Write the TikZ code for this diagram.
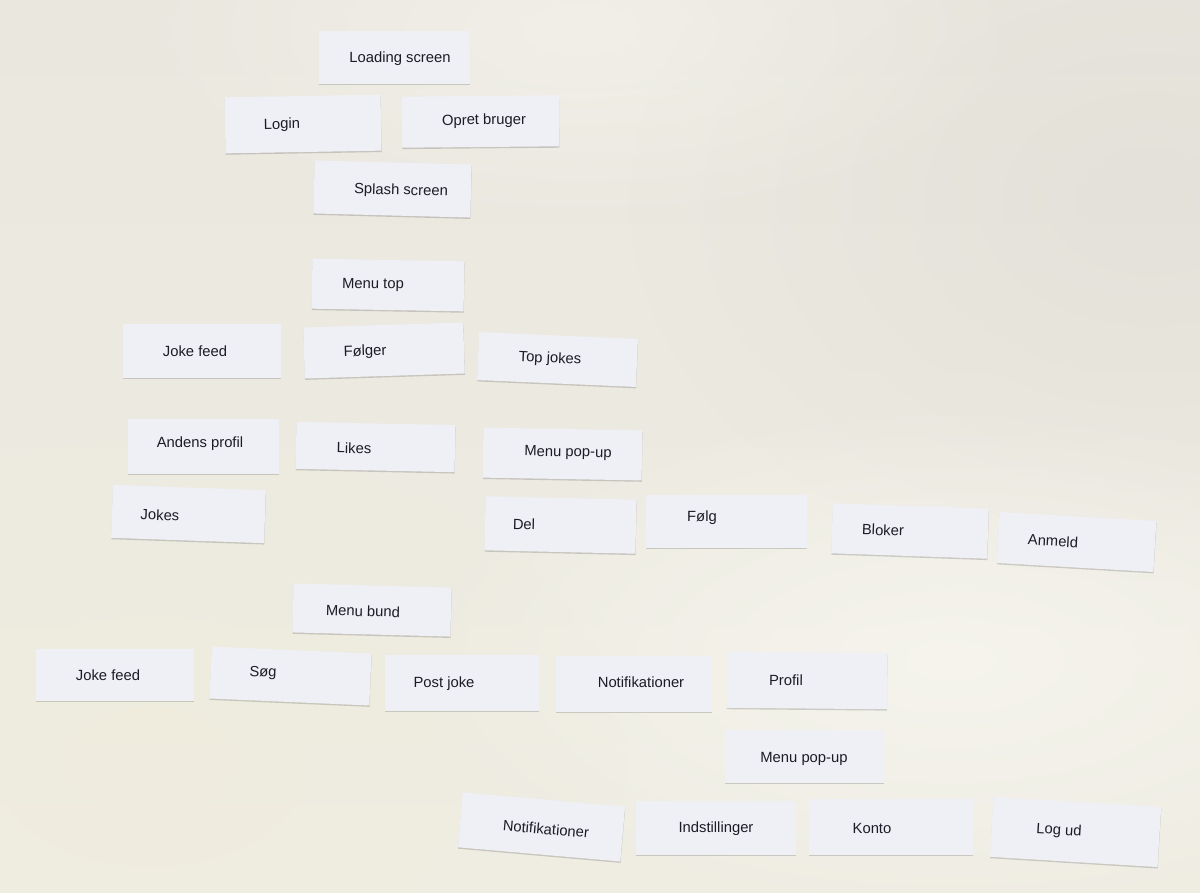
\documentclass[tikz,border=0pt]{standalone}
\usepackage{fontspec}
\setmainfont{Liberation Sans}
\usetikzlibrary{shadows,fadings}
\definecolor{bgtop}{HTML}{EAE7DF}
\definecolor{bgbot}{HTML}{EFEDE2}
\definecolor{glowgray}{HTML}{DCDAD3}
\definecolor{glowcream}{HTML}{F0ECDD}
\definecolor{glowwhite}{HTML}{F8F7F1}
\definecolor{cardfill}{HTML}{EFEFF6}
\definecolor{inkcol}{HTML}{1C1C26}
\tikzfading[name=softglow, inner color=transparent!0, outer color=transparent!100]
\tikzset{
  cardbox/.style={draw=none, fill=cardfill, inner sep=0pt,
    drop shadow={shadow xshift=0.2pt, shadow yshift=-1.4pt, fill=black, opacity=0.16}},
  cardtext/.style={inner sep=0pt, text=inkcol, yshift=-1pt, font=\fontsize{14.8}{17}\selectfont}
}
\newcommand\papercard[9]{%
  \node[cardbox, minimum width=#4pt, minimum height=#5pt, rotate=#6] (c#1) at (#2,#3) {};
  \node[cardtext, rotate=#6] (t#1) at (#7,#8) {#9};
}
\begin{document}
\begin{tikzpicture}[x=1pt, y=-1pt]
\useasboundingbox (0,0) rectangle (1200,892);
% background (table surface)
\shade[top color=bgtop, bottom color=bgbot] (0,0) rectangle (1200,892);
\fill[glowgray, opacity=0.5, path fading=softglow] (1150,200) ellipse (520 and 380);
\fill[glowcream, opacity=0.6, path fading=softglow] (150,760) ellipse (480 and 320);
\fill[glowwhite, opacity=0.75, path fading=softglow] (950,660) ellipse (560 and 260);
\fill[glowwhite, opacity=0.5, path fading=softglow] (580,30) ellipse (460 and 200);
% cards
\papercard{1}{394.5}{57.5}{151}{53}{0}{400}{58}{Loading screen}
\papercard{2}{303}{124}{156}{56}{1}{282}{124}{Login}
\papercard{3}{480.5}{121.5}{157}{51}{0.5}{484}{120}{Opret bruger}
\papercard{4}{392.5}{189}{157}{53}{-1.5}{401}{190}{Splash screen}
\papercard{5}{388}{285}{152}{50}{-1}{373}{284}{Menu top}
\papercard{6}{202}{351}{158}{54}{0}{195}{350}{Joke feed}
\papercard{7}{384}{350.5}{160}{51}{1.8}{365}{351}{Følger}
\papercard{8}{557.5}{359.5}{159}{48}{-2.5}{550}{358}{Top jokes}
\papercard{9}{203.5}{446}{151}{55}{0}{200}{443}{Andens profil}
\papercard{10}{375.5}{447}{159}{47}{-1.2}{354}{447}{Likes}
\papercard{11}{562.5}{454}{159}{50}{-1}{568}{452}{Menu pop-up}
\papercard{12}{188.5}{514}{153}{53}{-2}{160}{514}{Jokes}
\papercard{13}{560.5}{525}{151}{54}{-1.3}{524}{523}{Del}
\papercard{14}{726.5}{521}{161}{53}{0}{702}{517}{Følg}
\papercard{15}{910}{531}{156}{50}{-2}{883}{529}{Bloker}
\papercard{16}{1076.5}{542}{157}{51}{-3.3}{1053}{540}{Anmeld}
\papercard{17}{372}{610}{158}{49}{-1.5}{363}{610}{Menu bund}
\papercard{18}{115}{675}{158}{52}{0}{108}{674}{Joke feed}
\papercard{19}{290.5}{676}{160}{52}{-2.5}{263}{672}{Søg}
\papercard{20}{462}{682.5}{154}{56}{0}{444}{683}{Post joke}
\papercard{21}{634}{684}{156}{56}{0}{641}{681}{Notifikationer}
\papercard{22}{807}{680.5}{160}{56}{-0.5}{786}{679}{Profil}
\papercard{23}{804.5}{756.5}{159}{53}{0}{804}{758}{Menu pop-up}
\papercard{24}{541.5}{827}{163}{55}{-5}{546}{828}{Notifikationer}
\papercard{25}{716}{828}{160}{54}{0}{716}{828}{Indstillinger}
\papercard{26}{891}{827}{164}{56}{0}{872}{827}{Konto}
\papercard{27}{1075.5}{832}{168}{60}{-3.5}{1059}{830}{Log ud}
\end{tikzpicture}
\end{document}
